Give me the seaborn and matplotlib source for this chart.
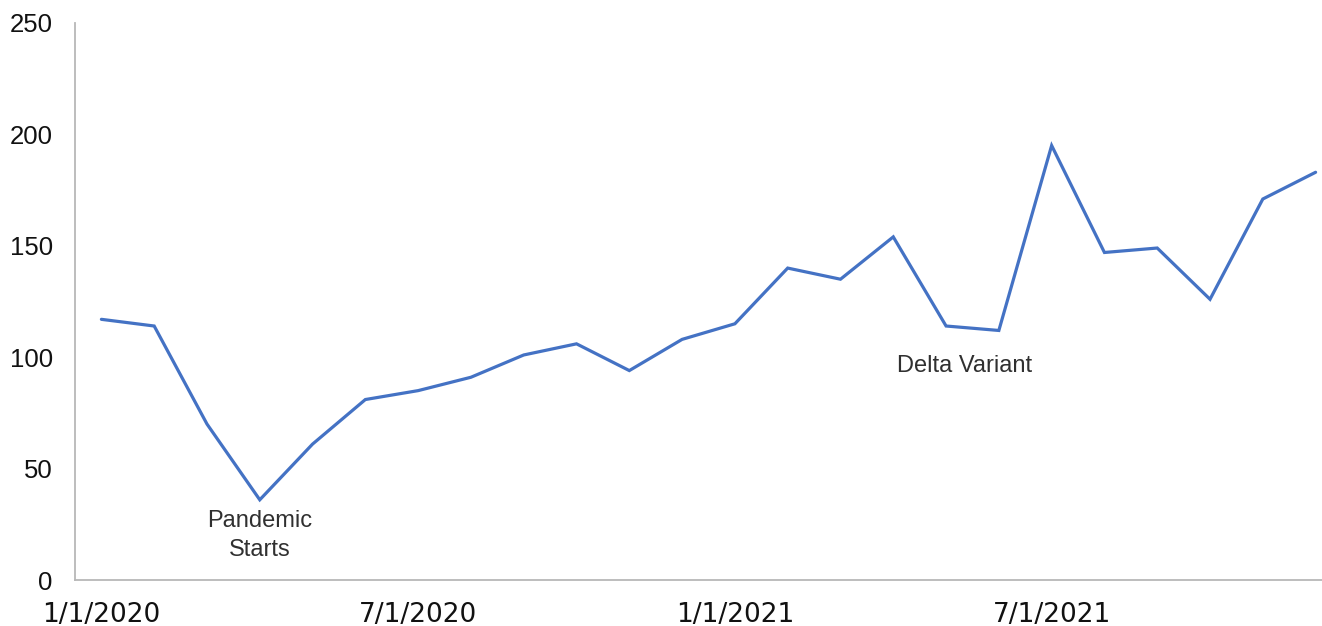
import matplotlib
matplotlib.use("Agg")
import matplotlib.pyplot as plt
import seaborn as sns
import pandas as pd

# Monthly observations, Jan 2020 - Dec 2021
months = pd.date_range("2020-01-01", "2021-12-01", freq="MS")
values = [117, 114, 70, 36, 61, 81, 85, 91, 101, 106, 94, 108,
          115, 140, 135, 154, 114, 112, 195, 147, 149, 126, 171, 183]
tick_months = ["1/1/2020", "7/1/2020", "1/1/2021", "7/1/2021"]
y_ticks = [0, 50, 100, 150, 200, 250]

df = pd.DataFrame({
    "month": [f"{d.month}/{d.day}/{d.year}" for d in months],
    "value": values,
})
df["pos"] = range(len(df))

sns.set_style("white")
plt.rcParams["font.family"] = ["Liberation Sans", "DejaVu Sans"]

fig = plt.figure(figsize=(13.22, 6.26), dpi=100)
ax = fig.add_axes([75 / 1322, 46 / 626, 1267 / 1322, 557 / 626])

sns.lineplot(data=df, x="pos", y="value", ax=ax, color="#4472C4",
             linewidth=2.3, solid_joinstyle="miter")

ax.set_xlim(-0.5, len(df) - 0.5)
ax.set_ylim(0, 250)
ax.set_yticks(y_ticks)
ax.set_yticklabels([str(v) for v in y_ticks], fontsize=18.5, color="#111111")

tick_pos = [df.index[df["month"] == m][0] for m in tick_months]
ax.set_xticks(tick_pos)
ax.set_xticklabels(tick_months, fontsize=19, color="#111111",
                   family=["DejaVu Sans"])

ax.tick_params(axis="y", length=0, pad=16)
ax.tick_params(axis="x", length=0, pad=16)
ax.set_xlabel("")
ax.set_ylabel("")

for side in ["top", "right"]:
    ax.spines[side].set_visible(False)
for side in ["left", "bottom"]:
    ax.spines[side].set_color("#b8b8b8")
    ax.spines[side].set_linewidth(1.3)

# Event labels
ax.text(df["pos"][3], 20, "Pandemic\nStarts", ha="center", va="center",
        fontsize=17, color="#303030", linespacing=1.45)
ax.text(df["pos"][17] - 0.65, 96, "Delta Variant", ha="center", va="center",
        fontsize=17, color="#303030")

fig.savefig("out.png", dpi=100)
